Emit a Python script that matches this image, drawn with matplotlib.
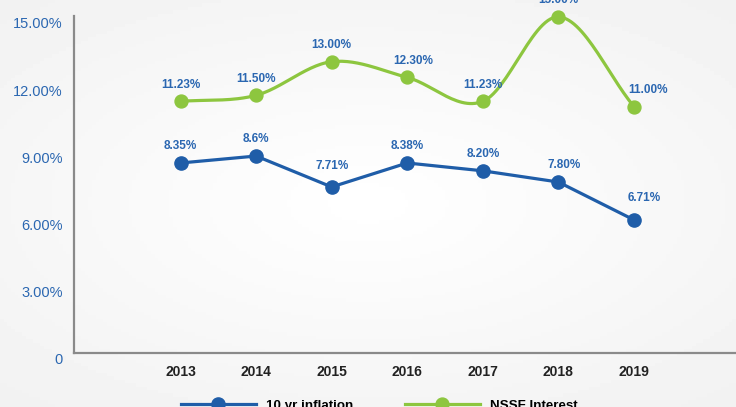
import numpy as np
import matplotlib
matplotlib.use('Agg')
import matplotlib.pyplot as plt
import matplotlib.transforms as mtrans
from matplotlib import font_manager
from matplotlib.lines import Line2D

years = ['2013', '2014', '2015', '2016', '2017', '2018', '2019']
# marker heights as drawn in the picture
inflation = [8.48, 8.79, 7.41, 8.48, 8.13, 7.63, 5.94]
inflation_labels = ['8.35%', '8.6%', '7.71%', '8.38%', '8.20%', '7.80%', '6.71%']
nssf = [11.23, 11.50, 13.00, 12.30, 11.23, 15.00, 11.00]
nssf_labels = ['11.23%', '11.50%', '13.00%', '12.30%', '11.23%', '15.00%', '11.00%']
yticks = [0, 3, 6, 9, 12, 15]
ytick_labels = ['0', '3.00%', '6.00%', '9.00%', '12.00%', '15.00%']

BLUE = '#1f5da8'
GREEN = '#8dc63f'
TXT_BLUE = '#2b67b1'
names = {f.name for f in font_manager.fontManager.ttflist}
FONT = [n for n in ['Liberation Sans Narrow', 'Liberation Sans', 'DejaVu Sans'] if n in names]
plt.rcParams['font.family'] = FONT


def catmull(x, y, n=30):
    # smooth curve through the points (display only)
    x = np.asarray(x, float)
    y = np.asarray(y, float)
    px = np.concatenate([[2 * x[0] - x[1]], x, [2 * x[-1] - x[-2]]])
    py = np.concatenate([[2 * y[0] - y[1]], y, [2 * y[-1] - y[-2]]])
    ox, oy = [], []
    t = np.linspace(0, 1, n)
    for i in range(1, len(px) - 2):
        for p, o in ((px, ox), (py, oy)):
            p0, p1, p2, p3 = p[i - 1], p[i], p[i + 1], p[i + 2]
            o.extend(0.5 * ((2 * p1) + (-p0 + p2) * t
                            + (2 * p0 - 5 * p1 + 4 * p2 - p3) * t ** 2
                            + (-p0 + 3 * p1 - 3 * p2 + p3) * t ** 3))
    return np.array(ox), np.array(oy)


fig = plt.figure(figsize=(7.36, 4.07), dpi=100)

# faint grey background, white in the middle
bg = fig.add_axes([0, 0, 1, 1], zorder=-5)
gx, gy = np.meshgrid(np.linspace(-1, 1, 200), np.linspace(-1, 1, 120))
r = np.clip(np.sqrt((gx * 0.8) ** 2 + (gy * 0.9) ** 2), 0, 1.2)
bg.imshow(1 - 0.045 * r, cmap='gray', vmin=0, vmax=1, aspect='auto',
          extent=[0, 1, 0, 1], origin='lower')
bg.axis('off')

ax = fig.add_axes([0.1005, 0.1327, 0.8995, 0.828])
ax.patch.set_alpha(0)
x = np.arange(len(years))

sx, sy = catmull(x, nssf)
ax.plot(sx, sy, color=GREEN, lw=2.3, clip_on=False, zorder=3)
ax.plot(x, nssf, 'o', color=GREEN, ms=9.3, clip_on=False, zorder=4)
ax.plot(x, inflation, '-', color=BLUE, lw=2.3, clip_on=False, zorder=3)
ax.plot(x, inflation, 'o', color=BLUE, ms=9.5, clip_on=False, zorder=4)

blue_off = [(0, 12), (0, 12), (0, 15), (0, 12), (0, 12), (4, 12), (7, 16)]
green_off = [(0, 12), (0, 12), (0, 12), (4, 12), (0, 12), (0, 12), (10, 12)]
for i in range(len(years)):
    ax.annotate(inflation_labels[i], (x[i], inflation[i]), xytext=blue_off[i],
                textcoords='offset points', ha='center', va='center',
                color=TXT_BLUE, fontsize=8.5, fontweight='bold', annotation_clip=False)
    ax.annotate(nssf_labels[i], (x[i], nssf[i]), xytext=green_off[i],
                textcoords='offset points', ha='center', va='center',
                color=TXT_BLUE, fontsize=8.5, fontweight='bold', annotation_clip=False)

ax.set_xlim(-1.41, 7.35)
ax.set_ylim(0, 15.04)
ax.set_xticks(x)
ax.set_xticklabels(years, fontsize=10, fontweight='bold', color='#222222')
ax.set_yticks(yticks)
ax.set_yticklabels(ytick_labels, fontsize=10.5, color=TXT_BLUE)
ax.tick_params(axis='both', length=0)
ax.tick_params(axis='x', pad=9)
ax.tick_params(axis='y', pad=8)
shift = mtrans.ScaledTranslation(0, -0.06, fig.dpi_scale_trans)
for lab in ax.get_yticklabels():
    lab.set_transform(lab.get_transform() + shift)

for s in ['top', 'right']:
    ax.spines[s].set_visible(False)
for s in ['left', 'bottom']:
    ax.spines[s].set_color('#8a8a8a')
    ax.spines[s].set_linewidth(1.6)

handles = [Line2D([], [], color=BLUE, lw=2.3, marker='o', ms=9.5),
           Line2D([], [], color=GREEN, lw=2.3, marker='o', ms=9.3)]
fig.legend(handles, ['10 yr inflation', 'NSSF Interest'], loc='center',
           bbox_to_anchor=(0.515, 0.003), ncol=2, frameon=False, handlelength=5.6,
           numpoints=1, columnspacing=3.9, handletextpad=0.75,
           prop={'family': FONT, 'weight': 'bold', 'size': 9.6})

fig.savefig('out.png', dpi=100)
